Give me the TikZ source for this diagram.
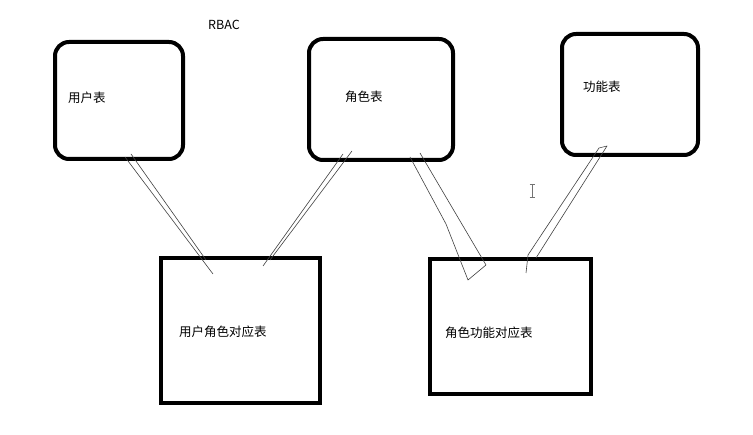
\documentclass[tikz,border=0pt]{standalone}
\usepackage{fontspec}
\newfontfamily\cjk{Noto Sans CJK SC}
\usetikzlibrary{calc}

\begin{document}
\begin{tikzpicture}[x = 1pt, y = -1pt,
    entity/.style = {draw, line width = 4pt, rounded corners = 14pt, inner sep = 0pt},
    relation/.style = {draw, line width = 4pt, inner sep = 0pt},
    tname/.style = {font = \cjk\fontsize{12.5}{15}\selectfont, inner sep = 0pt, anchor = west},
    sketch/.style = {draw = black!75, line width = 0.6pt, line join = round}]
      \useasboundingbox (0,0) rectangle (753,435);
      \node[entity, minimum width = 128pt, minimum height = 117pt] (user) at (119,100.5) {};
      \node[entity, minimum width = 144pt, minimum height = 121pt] (role) at (381,99.5) {};
      \node[entity, minimum width = 136pt, minimum height = 121pt] (func) at (630,94.5) {};
      \node[relation, minimum width = 159pt, minimum height = 145pt] (userrole) at (240.5,330.5) {};
      \node[relation, minimum width = 161pt, minimum height = 135pt] (rolefunc) at (510.5,326.5) {};
      \node[tname] (title) at (208,25) {RBAC};
      \node[tname] (usertext) at (68,98) {用户表};
      \node[tname] (roletext) at (345,97) {角色表};
      \node[tname] (functext) at (583,87) {功能表};
      \node[tname] (userroletext) at (179,332) {用户角色对应表};
      \node[tname] (rolefunctext) at (445,333) {角色功能对应表};
      \path[sketch] ($(user.south)+(6,-4)$) -- ($(userrole.north)+(-27.5,18)$)
                    ($(user.south)+(12,-7)$) -- ($(userrole.north)+(-34.5,4)$);
      \path[sketch] ($(role.south)+(-38,-8)$) -- ($(userrole.north)+(22.5,10)$)
                    ($(role.south)+(-29,-11)$) -- ($(userrole.north)+(29.5,4)$);
      \path[sketch] ($(role.south)+(29,-5)$) -- ($(role.south)+(65,62)$)
                    -- ($(rolefunc.north)+(-42.5,23)$) -- ($(rolefunc.north)+(-24.5,8)$)
                    -- ($(role.south)+(39,-9)$);
      \path[sketch] ($(rolefunc.north)+(15.5,16)$) -- ($(rolefunc.north)+(17.5,-2)$)
                    -- ($(func.south)+(-31,-9)$) -- ($(func.south)+(-23,-11)$)
                    -- ($(rolefunc.north)+(25.5,1)$);
      \draw[black!55, line width = 0.8pt] (529.5,184) -- (534.5,184) (532,184) -- (532,197)
                    (529.5,197) -- (534.5,197);
\end{tikzpicture}
\end{document}
